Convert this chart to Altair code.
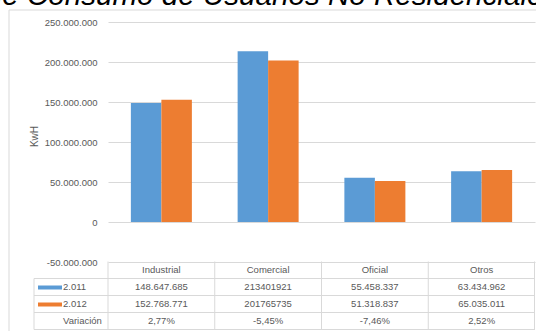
import altair as alt
import pandas as pd

# ---------------- data ----------------
categories = ["Industrial", "Comercial", "Oficial", "Otros"]
series = ["2.011", "2.012"]
values_2011 = [148647685, 213401921, 55458337, 63434962]
values_2012 = [152768771, 201765735, 51318837, 65035011]
grouped_format = [True, False, True, True]  # Comercial is printed without separators
y_ticks = [-50000000, 0, 50000000, 100000000, 150000000, 200000000, 250000000]
row_names = ["header", "2.011", "2.012", "Variación"]
title_text = "de Consumo de Usuarios No Residenciales"
colors = ["#5B9BD5", "#ED7D31"]

# ---------------- layout constants ----------------
PAD_L, PAD_T = 108, 22
PLOT_W, PLOT_H = 427, 240
FONT = "Liberation Sans"
GRAY = "#595959"
LINE = "#D9D9D9"


def fmt_int(v, grouped):
    s = f"{v:,}" if grouped else str(v)
    return s.replace(",", ".")


def fmt_pct(v):
    return f"{v:.2f}%".replace(".", ",")


bars_rows = []
for c, a, b in zip(categories, values_2011, values_2012):
    bars_rows.append({"category": c, "series": series[0], "value": a})
    bars_rows.append({"category": c, "series": series[1], "value": b})
bars_df = pd.DataFrame(bars_rows)

table_rows = []
for c, a, b, g in zip(categories, values_2011, values_2012, grouped_format):
    table_rows.append({"category": c, "row": "header", "text": c})
    table_rows.append({"category": c, "row": "2.011", "text": fmt_int(a, g)})
    table_rows.append({"category": c, "row": "2.012", "text": fmt_int(b, g)})
    table_rows.append({"category": c, "row": "Variación", "text": fmt_pct((b / a - 1) * 100)})
table_df = pd.DataFrame(table_rows)

labels_df = pd.DataFrame({"row": row_names[1:], "text": row_names[1:]})
swatch_df = pd.DataFrame({"row": series, "series": series})

# table grid (layout decoration, in pixels relative to the plot area)
row_top = 239.5
row_h = 17
leg_left = -74
band = PLOT_W / len(categories)
segs = []
for k in range(1, 5):
    y = row_top + k * row_h
    segs.append({"x": leg_left, "x2": PLOT_W, "y": y, "y2": y})
segs.append({"x": leg_left, "x2": leg_left, "y": row_top + row_h, "y2": row_top + 4 * row_h})
for k in range(len(categories) + 1):
    x = min(k * band, PLOT_W - 0.5)
    segs.append({"x": x, "x2": x, "y": row_top, "y2": row_top + 4 * row_h})
# outer chart border (left and top)
segs.append({"x": -99, "x2": -99, "y": -12, "y2": 320})
segs.append({"x": -99, "x2": 430, "y": -12, "y2": -12})
grid_df = pd.DataFrame(segs)

xscale = alt.Scale(domain=categories, paddingInner=0, paddingOuter=0)
rowscale = alt.Scale(type="point", domain=row_names, range=[248, 299], padding=0)
colscale = alt.Scale(domain=series, range=colors)

label_expr = ("replace(replace(replace(replace(format(datum.value, ','), ',', '.'), "
              "',', '.'), ',', '.'), '\u2212', '-')")

bars = alt.Chart(bars_df).mark_bar().encode(
    x=alt.X("category:N", scale=xscale, sort=categories, axis=None),
    xOffset=alt.XOffset("series:N", scale=alt.Scale(domain=series, paddingInner=0, paddingOuter=0.75)),
    y=alt.Y(
        "value:Q",
        scale=alt.Scale(domain=[-50000000, 250000000], nice=False, zero=False),
        axis=alt.Axis(
            values=y_ticks, labelExpr=label_expr, title="KwH",
            grid=True, gridColor=LINE, gridWidth=1, domain=False, ticks=False,
            labelPadding=11, labelFont=FONT, labelFontSize=9.5, labelColor=GRAY,
            titleFont=FONT, titleFontSize=10, titleFontWeight="normal", titleColor=GRAY,
            titleAngle=-90, titleX=-74, titleY=114, titleBaseline="middle", titleAlign="center",
        ),
    ),
    color=alt.Color("series:N", scale=colscale, legend=None),
)

grid = alt.Chart(grid_df).mark_rule(color=LINE, strokeWidth=1).encode(
    x=alt.X("x:Q", scale=None, axis=None),
    x2="x2:Q",
    y=alt.Y("y:Q", scale=None, axis=None),
    y2="y2:Q",
)

table_text = alt.Chart(table_df).mark_text(font=FONT, fontSize=9.5, color=GRAY).encode(
    x=alt.X("category:N", scale=xscale, sort=categories, axis=None),
    y=alt.Y("row:N", scale=rowscale, axis=None),
    text="text:N",
)

row_labels = alt.Chart(labels_df).mark_text(font=FONT, fontSize=9.5, color=GRAY, align="left").encode(
    x=alt.value(-45),
    y=alt.Y("row:N", scale=rowscale, axis=None),
    text="text:N",
)

swatches = alt.Chart(swatch_df).mark_rule(strokeWidth=4, yOffset=0.5).encode(
    x=alt.value(-70),
    x2=alt.value(-46),
    y=alt.Y("row:N", scale=rowscale, axis=None),
    color=alt.Color("series:N", scale=colscale, legend=None),
)

title = alt.Chart(pd.DataFrame({"t": [title_text]})).mark_text(
    font=FONT, fontSize=29.6, fontStyle="italic", color="#000000",
    align="center", baseline="alphabetic",
).encode(text="t:N", x=alt.value(272 - PAD_L), y=alt.value(5 - PAD_T))

chart = (
    alt.layer(grid, bars, table_text, row_labels, swatches, title)
    .resolve_scale(x="independent", y="independent", color="shared")
    .properties(
        width=PLOT_W, height=PLOT_H,
        padding={"left": PAD_L, "top": PAD_T, "right": 1, "bottom": 69},
        autosize=alt.AutoSizeParams(type="none"),
        background="white",
    )
    .configure_view(stroke=None)
)

chart.save("out.html", embed_options={"renderer": "svg", "actions": False})
